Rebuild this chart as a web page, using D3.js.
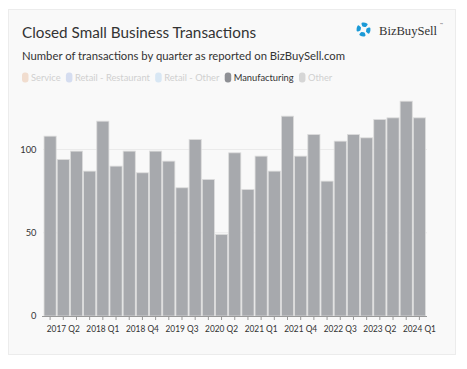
<!DOCTYPE html>
<html><head><meta charset="utf-8">
<script src="https://cdn.jsdelivr.net/npm/d3@7"></script>
<style>
html,body{margin:0;padding:0;background:#fff;}
svg{display:block;font-family:Lato,"Noto Sans",sans-serif;}
</style></head>
<body>
<svg id="chart" width="467" height="369"></svg>
<script>
const quarters = ["2017 Q1","2017 Q2","2017 Q3","2017 Q4","2018 Q1","2018 Q2","2018 Q3","2018 Q4","2019 Q1","2019 Q2","2019 Q3","2019 Q4","2020 Q1","2020 Q2","2020 Q3","2020 Q4","2021 Q1","2021 Q2","2021 Q3","2021 Q4","2022 Q1","2022 Q2","2022 Q3","2022 Q4","2023 Q1","2023 Q2","2023 Q3","2023 Q4","2024 Q1"];
const manufacturing = [108,94,99,87,117,90,99,86,99,93,77,106,82,49,98,76,96,87,120,96,109,81,105,109,107,118,119,129,119];
const yTicks = [0,50,100];
const xTickLabels = ["2017 Q2","2018 Q1","2018 Q4","2019 Q3","2020 Q2","2021 Q1","2021 Q4","2022 Q3","2023 Q2","2024 Q1"];
const legendNames = ["Service","Retail - Restaurant","Retail - Other","Manufacturing","Other"];
const legendColors = ["#f1ddcf","#d5ddf0","#d8e7f4","#8e9095","#d6d6d6"];
const legendActive = [false,false,false,true,false];

const svg = d3.select("#chart");
svg.append("rect").attr("x",8.5).attr("y",9.5).attr("width",447).attr("height",345)
  .attr("fill","#f9f9f9").attr("stroke","#ececec");

function fitText(sel, w){ sel.attr("textLength", w).attr("lengthAdjust","spacingAndGlyphs"); }

const title = svg.append("text").attr("x",22).attr("y",38).attr("font-size",15.5).attr("fill","#333")
  .text("Closed Small Business Transactions");
fitText(title, 234);
const sub = svg.append("text").attr("x",22).attr("y",59.5).attr("font-size",12).attr("fill","#333")
  .text("Number of transactions by quarter as reported on BizBuySell.com");
fitText(sub, 323);

// logo
const logo = svg.append("g").attr("transform","translate(363.5,29.5)");
const seg = d3.arc().innerRadius(2.8).outerRadius(7).cornerRadius(1.2);
[0,90,180,270].forEach(a=>{
  const s = (a - 20) * Math.PI/180;
  logo.append("path").attr("d", seg({startAngle:s, endAngle:s + 62*Math.PI/180}))
    .attr("fill","#1b9ad7");
});
const lt = svg.append("text").attr("x",379).attr("y",34.5).attr("font-family","'Liberation Serif','DejaVu Serif',serif")
  .attr("font-size",13.5).attr("fill","#333").text("BizBuySell");
fitText(lt, 58);
svg.append("text").attr("x",440).attr("y",25).attr("font-family","'Liberation Serif',serif")
  .attr("font-size",3).attr("fill","#333").text("™");

// legend
const lg = svg.append("g").attr("font-size",9.3);
let lx = 22;
legendNames.forEach((n,i)=>{
  lg.append("rect").attr("x",lx).attr("y",72.5).attr("width",6.5).attr("height",10).attr("rx",3)
    .attr("fill",legendColors[i]);
  const t = lg.append("text").attr("x",lx+9).attr("y",81).attr("fill",legendActive[i]?"#333":"#d0d0d0").text(n);
  lx += 9 + t.node().getComputedTextLength() + 5.3;
});

const x = d3.scaleBand().domain(quarters).range([43.5,426]).paddingInner(0.08).paddingOuter(0.04);
const y = d3.scaleLinear().domain([0,132]).range([316,96.2]);

// grid
svg.append("g").selectAll("line").data(yTicks.filter(d=>d>0)).join("line")
  .attr("x1",43).attr("x2",427).attr("y1",d=>y(d)).attr("y2",d=>y(d))
  .attr("stroke","#ebebeb");

svg.append("g").selectAll("rect").data(manufacturing).join("rect")
  .attr("x",(d,i)=>x(quarters[i])).attr("y",d=>y(d))
  .attr("width",x.bandwidth()).attr("height",d=>y(0)-y(d))
  .attr("fill","#a7a9ad").attr("stroke","#dcdcdc").attr("stroke-width",0.8);

// x axis
const xa = svg.append("g").attr("transform","translate(0,316)")
  .call(d3.axisBottom(x).tickSize(4).tickFormat(d=>xTickLabels.includes(d)?d:""));
xa.select(".domain").attr("d","M42,0.5H427").attr("stroke","#999");
xa.selectAll(".tick line").attr("stroke","#999");
xa.selectAll(".tick text").attr("font-family","Lato,'Noto Sans',sans-serif").attr("font-size",9.3).attr("fill","#333").attr("dy","0.95em")
  .filter(d=>xTickLabels.includes(d)).attr("textLength",33).attr("lengthAdjust","spacingAndGlyphs");

// y axis
const ya = svg.append("g").attr("transform","translate(36.5,0)")
  .call(d3.axisLeft(y).tickValues(yTicks).tickSize(0).tickPadding(0));
ya.select(".domain").remove();
ya.selectAll(".tick text").attr("font-family","Lato,'Noto Sans',sans-serif").attr("font-size",9.3).attr("fill","#333");
</script>
</body></html>
